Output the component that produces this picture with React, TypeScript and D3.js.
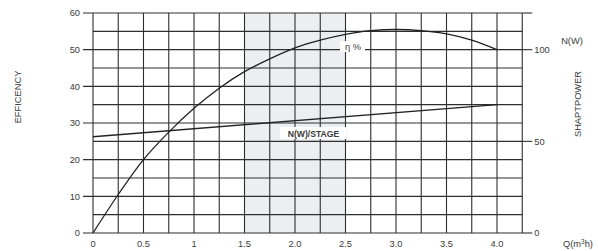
import React from "react";
import * as d3 from "d3";

// flow Q (m3/h)
const flow = [0, 0.25, 0.5, 0.75, 1.0, 1.25, 1.5, 1.75, 2.0, 2.25, 2.5, 2.75, 3.0, 3.25, 3.5, 3.75, 4.0];
// efficiency %
const efficiency = [0, 10.5, 20, 27.5, 34, 39.5, 44, 47.5, 50.5, 52.6, 54.2, 55.2, 55.5, 55.2, 54.3, 52.6, 50];
// shaft power per stage N(W)
const powerFlow = [0, 4.0];
const power = [52.5, 70];

const xTicks = [0, 0.5, 1, 1.5, 2.0, 2.5, 3.0, 3.5, 4.0];
const xTickLabels = ["0", "0.5", "1", "1.5", "2.0", "2.5", "3.0", "3.5", "4.0"];
const leftTicks = [0, 10, 20, 30, 40, 50, 60];
const rightTicks = [0, 50, 100];
const shadeRange = [1.5, 2.5];

const W = 598;
const H = 251;

const App = () => {
  const x = d3.scaleLinear().domain([0, 4]).range([93, 497]);
  const yL = d3.scaleLinear().domain([0, 60]).range([233, 13]);
  const yR = d3.scaleLinear().domain([0, 120]).range([233, 13]);

  const xEnd = x(4.25);
  const vLines = d3.range(0, 4.26, 0.25);
  const hLines = d3.range(0, 60.1, 5);

  const effLine = d3
    .line<number>()
    .x((d, i) => x(flow[i]))
    .y(d => yL(d))
    .curve(d3.curveMonotoneX)(efficiency);

  const powLine = d3
    .line<number>()
    .x((d, i) => x(powerFlow[i]))
    .y(d => yR(d))(power);

  const font = "'Liberation Sans', Arial, sans-serif";
  const grid = "#2e2e2e";
  const txt = "#3a3a3a";
  const fs = 9.3;

  return (
    <svg width={W} height={H} style={{ position: "absolute", left: 0, top: 0 }} fontFamily={font}>
      <rect width={W} height={H} fill="#fff" />
      <rect
        x={x(shadeRange[0])}
        y={yL(60)}
        width={x(shadeRange[1]) - x(shadeRange[0])}
        height={yL(0) - yL(60)}
        fill="#eceef1"
      />
      {vLines.map(v => (
        <line key={"v" + v} x1={x(v)} x2={x(v)} y1={yL(0)} y2={yL(60)} stroke={grid} strokeWidth={1.1} />
      ))}
      {hLines.map(v => (
        <line
          key={"h" + v}
          x1={v % 10 === 0 ? x(0) - 10 : x(0)}
          x2={xEnd}
          y1={yL(v)}
          y2={yL(v)}
          stroke={grid}
          strokeWidth={1.1}
        />
      ))}
      {rightTicks.concat([120]).map(v => (
        <line key={"r" + v} x1={xEnd} x2={xEnd + 10} y1={yR(v)} y2={yR(v)} stroke={grid} strokeWidth={1.1} />
      ))}
      {leftTicks.map(v => (
        <text key={"lt" + v} x={x(0) - 13} y={yL(v) + 3.3} textAnchor="end" fontSize={fs} fill={txt}>
          {v}
        </text>
      ))}
      {rightTicks.map(v => (
        <text key={"rt" + v} x={xEnd + 12} y={yR(v) + 3.3} textAnchor="start" fontSize={fs} fill={txt}>
          {v}
        </text>
      ))}
      {xTicks.map((v, i) => (
        <text key={"xt" + v} x={x(v)} y={247} textAnchor="middle" fontSize={fs} fill={txt}>
          {xTickLabels[i]}
        </text>
      ))}
      <path d={powLine || ""} fill="none" stroke="#222" strokeWidth={1.3} />
      <path d={effLine || ""} fill="none" stroke="#222" strokeWidth={1.3} />
      <rect x={340} y={41} width={25} height={11} fill="#fff" />
      <text x={353} y={50} textAnchor="middle" fontSize={fs} fill={txt}>
        η %
      </text>
      <rect x={280} y={127} width={66} height={12} fill="#fff" />
      <text x={313.5} y={136.5} textAnchor="middle" fontSize={8.6} fontWeight="bold" fill={txt}>
        N(W)/STAGE
      </text>
      <text x={572} y={44} textAnchor="middle" fontSize={fs} fill={txt}>
        N(W)
      </text>
      <text
        transform={`translate(581,104) rotate(-90)`}
        textAnchor="middle"
        fontSize={fs}
        fill={txt}
      >
        SHAPTPOWER
      </text>
      <text transform={`translate(21,97) rotate(-90)`} textAnchor="middle" fontSize={fs} fill={txt}>
        EFFICENCY
      </text>
      <text x={563} y={247} fontSize={fs} fill={txt}>
        Q(m<tspan fontSize={6.5} dy={-3.5}>3</tspan>
        <tspan dy={3.5}>h)</tspan>
      </text>
    </svg>
  );
};

export default App;
